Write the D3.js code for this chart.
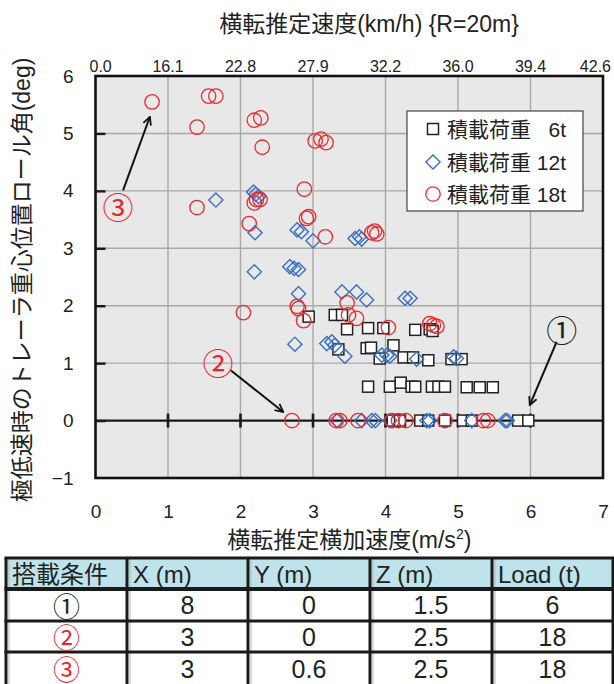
<!DOCTYPE html>
<html>
<head>
<meta charset="utf-8">
<script src="https://cdn.jsdelivr.net/npm/d3@7/dist/d3.min.js"></script>
<style>
  html, body { margin: 0; padding: 0; background: #fff; }
  svg { display: block; }
  .lat { font-family: "Liberation Sans", Arial, "Noto Sans CJK JP", sans-serif; }
  .cjk { font-family: "Liberation Sans", "Noto Sans CJK JP", sans-serif; }
  .circ { font-family: "Noto Sans CJK JP", "DejaVu Sans", sans-serif; }
</style>
</head>
<body>
<svg id="chart" width="614" height="684"></svg>
<script>
// ---- axis ticks and labels ----
const accelTicks = [0, 1, 2, 3, 4, 5, 6, 7];            // 横転推定横加速度 (m/s^2)
const rollTicks = [-1, 0, 1, 2, 3, 4, 5, 6];            // ロール角 (deg)
const speedLabels = ["0.0", "16.1", "22.8", "27.9", "32.2", "36.0", "39.4", "42.6"]; // km/h at R=20m

// ---- series: [横加速度, ロール角] ----
const load6t = [
  [2.94, 1.81], [3.30, 1.84], [3.40, 1.84], [3.47, 1.59], [3.76, 1.61], [3.97, 1.61],
  [4.41, 1.58], [4.61, 1.59], [4.65, 1.56], [4.11, 1.31], [3.35, 1.24], [3.74, 1.26],
  [3.80, 1.27], [3.92, 1.08], [4.25, 1.10], [4.38, 1.10], [4.59, 1.05], [4.91, 1.07],
  [5.05, 1.07], [3.76, 0.59], [4.06, 0.59], [4.21, 0.66], [4.36, 0.59], [4.41, 0.59],
  [4.64, 0.59], [4.73, 0.59], [4.82, 0.59], [5.12, 0.58], [5.30, 0.58], [5.48, 0.58],
  [4.10, 0], [4.20, 0], [4.48, 0], [4.59, 0], [4.82, 0], [5.07, 0], [5.19, 0], [5.83, 0], [5.97, 0]
];
const load12t = [
  [1.66, 3.84], [2.18, 3.98], [2.21, 3.94], [2.25, 3.90], [2.20, 3.27], [2.78, 3.32],
  [2.84, 3.29], [3.00, 3.13], [3.58, 3.17], [3.64, 3.20], [3.67, 3.16], [2.19, 2.59],
  [2.68, 2.68], [2.74, 2.65], [2.80, 2.63], [2.80, 2.21], [3.40, 2.24], [3.60, 2.24],
  [3.74, 2.10], [4.27, 2.13], [4.34, 2.13], [2.75, 1.33], [3.19, 1.34], [3.26, 1.37],
  [3.30, 1.31], [3.44, 1.12], [3.95, 1.14], [4.02, 1.14], [4.06, 1.12], [4.43, 1.07],
  [4.94, 1.11], [4.98, 1.08],
  [3.33, 0], [3.67, 0], [3.81, 0], [3.86, 0], [4.06, 0], [4.57, 0], [4.61, 0], [5.19, 0], [5.65, 0], [5.68, 0]
];
const load18t = [
  [0.78, 5.55], [1.56, 5.65], [1.66, 5.65], [1.40, 5.11], [2.19, 5.23], [2.28, 5.27],
  [2.30, 4.76], [3.03, 4.87], [3.11, 4.90], [3.18, 4.84], [2.88, 4.03], [1.40, 3.71],
  [2.19, 3.79], [2.22, 3.85], [2.27, 3.85], [2.12, 3.43], [2.91, 3.52], [2.94, 3.55],
  [3.17, 3.20], [3.81, 3.27], [3.85, 3.30], [3.88, 3.25], [2.04, 1.88], [2.78, 1.99],
  [2.80, 1.95], [2.87, 1.74], [3.47, 2.05], [3.49, 1.84], [3.60, 1.78], [4.04, 1.62],
  [4.61, 1.69], [4.66, 1.66], [4.71, 1.64],
  [2.71, 0], [3.32, 0], [3.37, 0], [3.62, 0], [4.09, 0], [4.18, 0], [4.28, 0], [4.82, 0], [5.35, 0], [5.41, 0]
];

const legendNames = ["積載荷重", "積載荷重", "積載荷重"];
const legendLoads = ["6t", "12t", "18t"];

// ---- loading conditions with their call-outs ----
const conditionMarks = ["①", "②", "③"];
const conditionColors = ["#222", "#e8232a", "#e8232a"];
// label position and arrow [from, to] in data units
const calloutLabel = [[6.43, 1.61], [1.69, 1.02], [0.31, 3.74]];
const calloutArrow = [
  [[6.36, 1.37], [5.99, 0.27]],
  [[1.86, 0.88], [2.59, 0.15]],
  [[0.38, 4.01], [0.75, 5.29]]
];

// ---- loading condition table ----
const tableHeader = ["搭載条件", "X (m)", "Y (m)", "Z (m)", "Load (t)"];
const tableX = ["8", "3", "3"];
const tableY = ["0", "0", "0.6"];
const tableZ = ["1.5", "2.5", "2.5"];
const tableLoad = ["6", "18", "18"];

// ---------------------------------------------------------------
const svg = d3.select("#chart");
const plot = { left: 95.5, right: 603, top: 76, bottom: 478 };

const x = d3.scaleLinear().domain([0, 7]).range([plot.left, plot.right]);
const y = d3.scaleLinear().domain([-1, 6]).range([plot.bottom, plot.top]);

// plot background
svg.append("rect")
  .attr("x", plot.left).attr("y", plot.top)
  .attr("width", plot.right - plot.left).attr("height", plot.bottom - plot.top)
  .attr("fill", "#e8e8e8");

// grid
const grid = svg.append("g").attr("stroke", "#a9a9a9").attr("stroke-width", 1.4);
grid.selectAll("line.v").data(accelTicks.filter(d => d > 0 && d < 7)).join("line")
  .attr("x1", d => x(d)).attr("x2", d => x(d))
  .attr("y1", plot.top).attr("y2", plot.bottom);
grid.selectAll("line.h").data(rollTicks.filter(d => d > 0 && d < 6)).join("line")
  .attr("x1", plot.left).attr("x2", plot.right)
  .attr("y1", d => y(d)).attr("y2", d => y(d));

// zero line with its tick marks
svg.append("line")
  .attr("x1", plot.left).attr("x2", plot.right)
  .attr("y1", y(0)).attr("y2", y(0))
  .attr("stroke", "#1a1a1a").attr("stroke-width", 2.2);
svg.append("g").selectAll("line").data(accelTicks.filter(d => d > 0 && d < 7)).join("line")
  .attr("x1", d => x(d)).attr("x2", d => x(d))
  .attr("y1", y(0) - 7).attr("y2", y(0) + 7)
  .attr("stroke", "#1a1a1a").attr("stroke-width", 2.6);

// left axis: inward ticks + labels
const yAxis = d3.axisLeft(y).tickValues(rollTicks).tickSize(-10).tickPadding(22)
  .tickFormat(d => d < 0 ? "\u2212" + Math.abs(d) : String(d));
const gy = svg.append("g").attr("transform", `translate(${plot.left},0)`).call(yAxis);
gy.select(".domain").remove();
gy.selectAll(".tick line").attr("stroke", "#1a1a1a").attr("stroke-width", 2.4);
gy.selectAll(".tick").filter(d => d === 6 || d === -1).select("line").remove();
gy.attr("font-family", null).attr("font-size", null);
gy.selectAll(".tick text").attr("class", "lat").attr("font-size", 19).attr("fill", "#222");

// bottom axis labels
const xAxis = d3.axisBottom(x).tickValues(accelTicks).tickSize(0).tickPadding(27)
  .tickFormat(d3.format("d"));
const gx = svg.append("g").attr("transform", `translate(0,${plot.bottom})`).call(xAxis);
gx.select(".domain").remove();
gx.attr("font-family", null).attr("font-size", null);
gx.selectAll(".tick text").attr("class", "lat").attr("font-size", 19).attr("fill", "#222");

// top axis: speed equivalent of each acceleration tick
const gt = svg.append("g");
gt.selectAll("text").data(accelTicks).join("text")
  .attr("class", "lat")
  .attr("x", (d, i) => i === 0 ? x(d) - 6 : (i === accelTicks.length - 1 ? x(d) + 8 : x(d)))
  .attr("y", plot.top - 4)
  .attr("text-anchor", (d, i) => i === 0 ? "start" : (i === accelTicks.length - 1 ? "end" : "middle"))
  .attr("font-size", 16).attr("fill", "#222")
  .text((d, i) => speedLabels[i]);

// plot frame
svg.append("rect")
  .attr("x", plot.left).attr("y", plot.top)
  .attr("width", plot.right - plot.left).attr("height", plot.bottom - plot.top)
  .attr("fill", "none").attr("stroke", "#111").attr("stroke-width", 2.6);

// axis titles
svg.append("text").attr("class", "cjk")
  .attr("x", 369).attr("y", 32).attr("text-anchor", "middle")
  .attr("font-size", 23).attr("fill", "#222")
  .text("横転推定速度(km/h) {R=20m}");

const xt = svg.append("text").attr("class", "cjk")
  .attr("x", (plot.left + plot.right) / 2).attr("y", 548).attr("text-anchor", "middle")
  .attr("font-size", 23).attr("fill", "#222");
xt.append("tspan").text("横転推定横加速度(m/s");
xt.append("tspan").attr("font-size", 14).attr("dy", -9).text("2");
xt.append("tspan").attr("dy", 9).text(")");

svg.append("text").attr("class", "cjk")
  .attr("transform", `translate(22,${(58 + 502) / 2}) rotate(-90)`)
  .attr("text-anchor", "middle").attr("dominant-baseline", "central")
  .attr("font-size", 23).attr("fill", "#222")
  .text("極低速時のトレーラ重心位置ロール角(deg)");

// markers
const blue = "#3a6fc2", red = "#ec2a2e";
const marks = svg.append("g");
marks.append("g").selectAll("rect").data(load6t).join("rect")
  .attr("x", d => x(d[0]) - 5.5).attr("y", d => y(d[1]) - 5.5)
  .attr("width", 11).attr("height", 11)
  .attr("fill", "#fff").attr("stroke", "#222").attr("stroke-width", 1.5);
const diamond = d3.symbol().type(d3.symbolSquare).size(100);
marks.append("g").selectAll("path").data(load12t).join("path")
  .attr("d", diamond)
  .attr("transform", d => `translate(${x(d[0])},${y(d[1])}) rotate(45)`)
  .attr("fill", "none").attr("stroke", blue).attr("stroke-width", 1.4);
marks.append("g").selectAll("circle").data(load18t).join("circle")
  .attr("cx", d => x(d[0])).attr("cy", d => y(d[1])).attr("r", 7.2)
  .attr("fill", "none").attr("stroke", red).attr("stroke-width", 1.3);

// legend
const lg = svg.append("g");
lg.append("rect").attr("x", 407).attr("y", 111).attr("width", 176).attr("height", 100)
  .attr("fill", "#fff").attr("stroke", "#444").attr("stroke-width", 1.2);
const rowsY = [129, 162, 194];
lg.append("rect").attr("x", 433 - 5.5).attr("y", rowsY[0] - 5.5).attr("width", 11).attr("height", 11)
  .attr("fill", "#fff").attr("stroke", "#222").attr("stroke-width", 1.5);
lg.append("path").attr("d", diamond).attr("transform", `translate(433,${rowsY[1]}) rotate(45)`)
  .attr("fill", "none").attr("stroke", blue).attr("stroke-width", 1.4);
lg.append("circle").attr("cx", 433).attr("cy", rowsY[2]).attr("r", 7.2)
  .attr("fill", "none").attr("stroke", red).attr("stroke-width", 1.3);
lg.selectAll("text.name").data(legendNames).join("text").attr("class", "cjk")
  .attr("x", 447).attr("y", (d, i) => rowsY[i] + 8).attr("font-size", 21).attr("fill", "#222")
  .text(d => d);
lg.selectAll("text.load").data(legendLoads).join("text").attr("class", "lat")
  .attr("x", 566).attr("y", (d, i) => rowsY[i] + 8).attr("text-anchor", "end")
  .attr("font-size", 21).attr("fill", "#222")
  .text(d => d);

// call-outs
svg.append("defs").append("marker")
  .attr("id", "head").attr("viewBox", "0 0 10 10").attr("refX", 9).attr("refY", 5)
  .attr("markerWidth", 10).attr("markerHeight", 10).attr("markerUnits", "userSpaceOnUse")
  .attr("orient", "auto")
  .append("path").attr("d", "M1,1 L9,5 L1,9").attr("fill", "none")
  .attr("stroke", "#111").attr("stroke-width", 1.8);
svg.append("g").selectAll("line").data(calloutArrow).join("line")
  .attr("x1", d => x(d[0][0])).attr("y1", d => y(d[0][1]))
  .attr("x2", d => x(d[1][0])).attr("y2", d => y(d[1][1]))
  .attr("stroke", "#111").attr("stroke-width", 2).attr("marker-end", "url(#head)");
svg.append("g").selectAll("text").data(calloutLabel).join("text").attr("class", "circ")
  .attr("x", d => x(d[0])).attr("y", d => y(d[1]))
  .attr("text-anchor", "middle").attr("dominant-baseline", "central")
  .attr("font-size", 31).attr("fill", (d, i) => conditionColors[i])
  .text((d, i) => conditionMarks[i]);

// table
const colEdges = [6, 127, 248, 370, 492, 613];
const rowEdges = [558, 589, 621, 652, 685];
const tbl = svg.append("g");
tbl.append("rect").attr("x", colEdges[0]).attr("y", rowEdges[0])
  .attr("width", colEdges[5] - colEdges[0]).attr("height", rowEdges[1] - rowEdges[0])
  .attr("fill", "#bfe3ea");
// thin grey inner edge next to each column line
tbl.selectAll("line.inner").data(colEdges.slice(0, 5)).join("line")
  .attr("x1", d => d + 3).attr("x2", d => d + 3)
  .attr("y1", rowEdges[0]).attr("y2", rowEdges[4])
  .attr("stroke", "#b5b5b5").attr("stroke-width", 1);
tbl.selectAll("line.col").data(colEdges).join("line")
  .attr("x1", d => d).attr("x2", d => d)
  .attr("y1", rowEdges[0]).attr("y2", rowEdges[4])
  .attr("stroke", "#1a1a1a").attr("stroke-width", 3);
tbl.selectAll("line.row").data(rowEdges.slice(0, 4)).join("line")
  .attr("x1", colEdges[0] - 1.5).attr("x2", colEdges[5] + 1.5)
  .attr("y1", d => d).attr("y2", d => d)
  .attr("stroke", "#1a1a1a").attr("stroke-width", (d, i) => i === 1 ? 4 : 3);

tbl.selectAll("text.head").data(tableHeader).join("text").attr("class", "cjk")
  .attr("x", (d, i) => colEdges[i] + 6).attr("y", (rowEdges[0] + rowEdges[1]) / 2 + 9)
  .attr("font-size", 24).attr("fill", "#222")
  .text(d => d);

const columns = [conditionMarks, tableX, tableY, tableZ, tableLoad];
columns.forEach((col, c) => {
  tbl.append("g").selectAll("text").data(col).join("text")
    .attr("class", c === 0 ? "circ" : "lat")
    .attr("x", (colEdges[c] + colEdges[c + 1]) / 2)
    .attr("y", (d, r) => (rowEdges[r + 1] + rowEdges[r + 2]) / 2 + (c === 0 ? 0 : 9))
    .attr("dominant-baseline", c === 0 ? "central" : null)
    .attr("text-anchor", "middle")
    .attr("font-size", c === 0 ? 27 : 25)
    .attr("fill", (d, r) => c === 0 ? conditionColors[r] : "#222")
    .text(d => d);
});
</script>
</body>
</html>
